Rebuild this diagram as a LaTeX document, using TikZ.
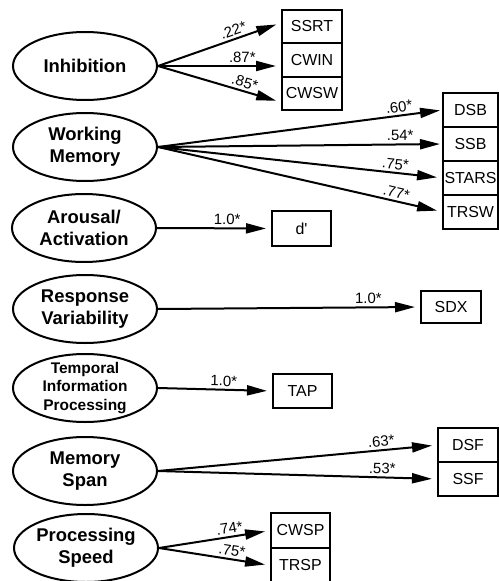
\documentclass[tikz,border=0pt]{standalone}
\usepackage{fontspec}
\setmainfont{Liberation Sans}
\usetikzlibrary{shapes.geometric, arrows.meta, positioning}

\begin{document}
\begin{tikzpicture}[
        x=1bp, y=1bp,
        % Factores latentes
        latent/.style={
                ellipse,
                draw,
                line width=2bp,
                minimum width=144bp,
                minimum height=68bp,
                inner sep=0pt,
                align=center,
                font=\fontsize{18.5}{22.5}\selectfont\bfseries
            },
        % Indicadores
        measure/.style={
                rectangle,
                draw,
                line width=2bp,
                minimum width=59bp,
                minimum height=34bp,
                inner sep=1bp,
                outer sep=0pt,
                font=\fontsize{16}{18}\selectfont
            },
        % Flechas
        loading/.style={
                -{Triangle[length=20bp,width=10bp]},
                line width=2bp,
                shorten >=6bp
            },
        % Coeficientes
        coef/.style={
                font=\fontsize{15}{17}\selectfont,
                sloped,
                above,
                inner sep=2.5bp
            }
    ]

    \useasboundingbox (0,0) rectangle (499,-581);

    % Factores
    \node[latent] (inh) at (85,-66) {Inhibition};
    \node[latent] (wm) at (85,-147) {Working\\Memory};
    \node[latent] (aro) at (84,-228) {Arousal/\\Activation};
    \node[latent] (rv) at (85,-309) {Response\\Variability};
    \node[latent, inner ysep=-6bp, font=\fontsize{15.5}{19}\selectfont\bfseries] (tip) at (85,-388) {Temporal\\Information\\Processing};
    \node[latent] (ms) at (85,-471) {Memory\\Span};
    \node[latent] (ps) at (86,-548) {Processing\\Speed};

    % Indicadores
    \node[measure, minimum width=60bp, minimum height=33bp] (ssrt) at (312,-26.5) {SSRT};
    \node[measure, minimum width=60bp, minimum height=34bp, below=0pt of ssrt] (cwin) {CWIN};
    \node[measure, minimum width=60bp, minimum height=33bp, below=0pt of cwin] (cwsw) {CWSW};

    \node[measure, minimum width=55bp] (dsb) at (470.5,-110) {DSB};
    \node[measure, minimum width=55bp, below=0pt of dsb] (ssb) {SSB};
    \node[measure, minimum width=55bp, below=0pt of ssb] (stars) {STARS};
    \node[measure, minimum width=55bp, below=0pt of stars] (trsw) {TRSW};

    \node[measure, minimum height=35bp] (dprime) at (301.5,-228.5) {d\textquotesingle};
    \node[measure, minimum width=60bp, minimum height=32bp] (sdx) at (451,-307) {SDX};
    \node[measure] (tap) at (302.5,-391) {TAP};

    \node[measure, minimum width=60bp] (dsf) at (468,-445) {DSF};
    \node[measure, minimum width=60bp, below=0pt of dsf] (ssf) {SSF};

    \node[measure, minimum height=35bp] (cwsp) at (300.5,-530.5) {CWSP};
    \node[measure, minimum height=35bp, below=0pt of cwsp] (trsp) {TRSP};

    % Cargas
    \draw[loading] (inh.east) -- ([yshift=4bp]ssrt.west) node[coef, pos=0.63] (c-ssrt) {.22*};
    \draw[loading] (inh.east) -- (inh.east -| cwin.west) node[coef, pos=0.68] (c-cwin) {.87*};
    \draw[loading] (inh.east) -- ([yshift=-9bp]cwsw.west) node[coef, pos=0.68] (c-cwsw) {.85*};

    \draw[loading, shorten >=3bp] (wm.east) -- (dsb.west) node[coef, pos=0.85] (c-dsb) {.60*};
    \draw[loading, shorten >=3bp] (wm.east) -- (ssb.west) node[coef, pos=0.85] (c-ssb) {.54*};
    \draw[loading] (wm.east) -- (stars.west) node[coef, pos=0.83] (c-stars) {.75*};
    \draw[loading] (wm.east) -- (trsw.west) node[coef, pos=0.83] (c-trsw) {.77*};

    \draw[loading] (aro.east) -- (dprime.west) node[coef, pos=0.61] (c-dprime) {1.0*};
    \draw[loading] (rv.east) -- (sdx.west) node[coef, pos=0.80] (c-sdx) {1.0*};
    \draw[loading] (tip.east) -- (tap.west) node[coef, pos=0.57] (c-tap) {1.0*};

    \draw[loading] (ms.east) -- (dsf.west) node[coef, pos=0.80] (c-dsf) {.63*};
    \draw[loading] (ms.east) -- (ssf.west) node[coef, pos=0.80] (c-ssf) {.53*};

    \draw[loading] (ps.east) -- (cwsp.west) node[coef, pos=0.64] (c-cwsp) {.74*};
    \draw[loading] (ps.east) -- (trsp.west) node[coef, pos=0.64] (c-trsp) {.75*};

\end{tikzpicture}
\end{document}
